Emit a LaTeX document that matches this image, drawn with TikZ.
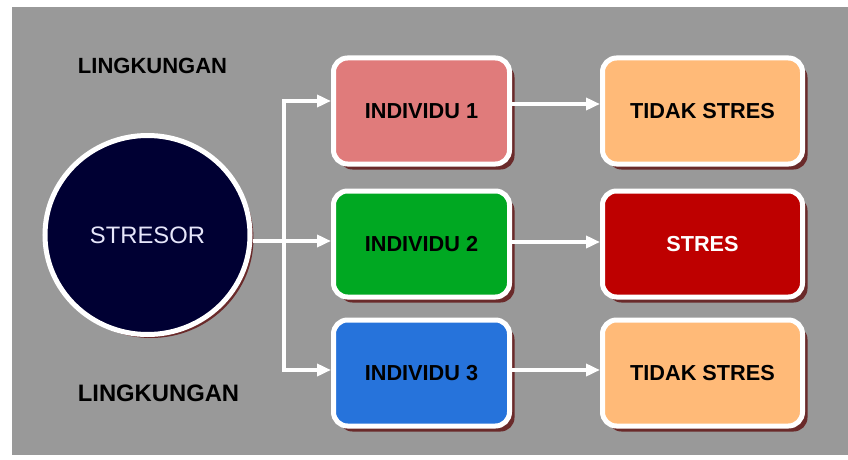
\documentclass[tikz,border=0pt]{standalone}
\usepackage{fontspec}
\setmainfont{Liberation Sans}
\usetikzlibrary{arrows.meta,shadows,shapes.geometric}
\definecolor{bgray}{HTML}{999999}
\definecolor{navy}{HTML}{000033}
\definecolor{cpink}{HTML}{E07B7B}
\definecolor{cgreen}{HTML}{00A822}
\definecolor{cblue}{HTML}{2673DB}
\definecolor{cpeach}{HTML}{FFBA78}
\definecolor{cred}{HTML}{BE0000}
\definecolor{cshadow}{HTML}{6A2A2A}
\definecolor{paletext}{HTML}{E6E6FA}
\tikzset{
  boxbase/.style={draw=white, line width=5pt, rounded corners=14pt,
    minimum height=106pt, font=\fontsize{21.7}{26}\selectfont\bfseries,
    drop shadow={shadow xshift=5pt, shadow yshift=-5.5pt, fill=cshadow, opacity=1}},
  indbox/.style={boxbase, minimum width=176pt},
  resbox/.style={boxbase, minimum width=200pt},
  conn/.style={draw=white, line width=4pt},
  arr/.style={conn, -{Triangle[length=14pt,width=12pt]}},
  envlabel/.style={font=\bfseries, text=black},
}
\begin{document}
\begin{tikzpicture}[x=1pt,y=-1pt]
\useasboundingbox (0,0) rectangle (848,460);
\fill[white] (0,0) rectangle (848,460);
\fill[bgray] (12,7) rectangle (848,455);

\node[envlabel, font=\fontsize{22}{26}\selectfont\bfseries] (ltop) at (152.5,66) {LINGKUNGAN};
\node[envlabel, font=\fontsize{23.8}{28}\selectfont\bfseries] (lbot) at (158.5,393) {LINGKUNGAN};

\node[ellipse, draw=white, line width=5pt, fill=navy, minimum width=205pt, minimum height=199pt,
  text=paletext, font=\fontsize{23.8}{28}\selectfont,
  drop shadow={shadow xshift=3.5pt, shadow yshift=-3.5pt, fill=cshadow, opacity=1}] (stresor) at (147.5,235) {STRESOR};

\node[indbox, fill=cpink] (i1) at (421.5,111) {INDIVIDU 1};
\node[indbox, fill=cgreen] (i2) at (421.5,244) {INDIVIDU 2};
\node[indbox, fill=cblue] (i3) at (421.5,373) {INDIVIDU 3};

\node[resbox, fill=cpeach] (r1) at (702.5,111) {TIDAK STRES};
\node[resbox, fill=cred, text=white] (r2) at (702.5,244) {STRES};
\node[resbox, fill=cpeach] (r3) at (702.5,373) {TIDAK STRES};

\coordinate (j) at (284,241);
\draw[arr] (stresor.east |- j) -- ([yshift=3pt]i2.west);
\draw[arr] (j) |- ([yshift=10pt]i1.west);
\draw[arr] (j) |- ([yshift=3pt]i3.west);

\draw[arr] ([yshift=7pt]i1.east) -- ([yshift=7pt]r1.west);
\draw[arr] ([yshift=2pt]i2.east) -- ([yshift=2pt]r2.west);
\draw[arr] ([yshift=3pt]i3.east) -- ([yshift=3pt]r3.west);
\end{tikzpicture}
\end{document}
